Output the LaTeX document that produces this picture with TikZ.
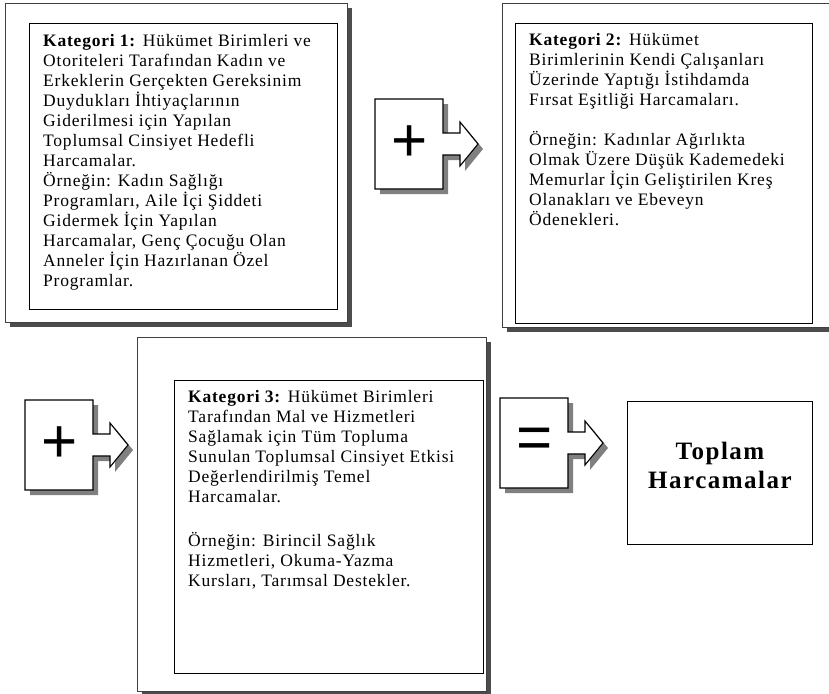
\documentclass[tikz,border=0pt]{standalone}
\usepackage{fontspec}
\setmainfont{Liberation Serif}
\newfontfamily\boxfont[LetterSpace=4.5]{Liberation Serif}
\newfontfamily\sumfont[LetterSpace=6]{Liberation Serif}
\newfontfamily\signfont{Liberation Sans}
\usetikzlibrary{positioning,shadows}

\begin{document}
\begin{tikzpicture}[x=1pt,y=-1pt,
    outerbox/.style={draw=black!75, line width=1.2pt, fill=white, anchor=north west, inner sep=0pt,
      drop shadow={shadow xshift=4pt, shadow yshift=-4pt, fill=black!70, opacity=1}},
    innerbox/.style={draw=black, line width=0.9pt, fill=white, anchor=north west, inner sep=0pt},
    txt/.style={inner sep=0pt, align=left, font=\boxfont\fontsize{17.5}{20}\selectfont},
    callout/.style={draw=black, line width=1.1pt, fill=white,
      drop shadow={shadow xshift=5pt, shadow yshift=-5pt, fill=black!50, opacity=1}},
    sign/.style={inner sep=0pt, font=\signfont\fontsize{62}{62}\selectfont}]
    \useasboundingbox (0,0) rectangle (829,693);
    % category boxes
    \node[outerbox, minimum width=342pt, minimum height=319pt] (out1) at (5,3) {};
    \node[innerbox, minimum width=308pt, minimum height=286pt] (in1) at (29,23) {};
    \node[outerbox, minimum width=334pt, minimum height=324pt] (out2) at (502,3) {};
    \node[innerbox, minimum width=297pt, minimum height=300pt] (in2) at (515,23) {};
    \node[outerbox, minimum width=349pt, minimum height=354pt] (out3) at (137,337) {};
    \node[innerbox, minimum width=309pt, minimum height=293pt] (in3) at (174,380) {};
    \node[innerbox, minimum width=185pt, minimum height=143pt] (total) at (627,401) {};
    % texts
    \node[txt, below right=11pt and 14pt of in1.north west] (kat1) {%
      \textbf{Kategori 1:} Hükümet Birimleri ve\\
      Otoriteleri Tarafından Kadın ve\\
      Erkeklerin Gerçekten Gereksinim\\
      Duydukları İhtiyaçlarının\\
      Giderilmesi için Yapılan\\
      Toplumsal Cinsiyet Hedefli\\
      Harcamalar.\\
      Örneğin: Kadın Sağlığı\\
      Programları, Aile İçi Şiddeti\\
      Gidermek İçin Yapılan\\
      Harcamalar, Genç Çocuğu Olan\\
      Anneler İçin Hazırlanan Özel\\
      Programlar.};
    \node[txt, below right=10pt and 14pt of in2.north west] (kat2) {%
      \textbf{Kategori 2:} Hükümet\\
      Birimlerinin Kendi Çalışanları\\
      Üzerinde Yaptığı İstihdamda\\
      Fırsat Eşitliği Harcamaları.\\[20pt]
      Örneğin: Kadınlar Ağırlıkta\\
      Olmak Üzere Düşük Kademedeki\\
      Memurlar İçin Geliştirilen Kreş\\
      Olanakları ve Ebeveyn\\
      Ödenekleri.};
    \node[txt, below right=10pt and 14pt of in3.north west] (kat3) {%
      \textbf{Kategori 3:} Hükümet Birimleri\\
      Tarafından Mal ve Hizmetleri\\
      Sağlamak için Tüm Topluma\\
      Sunulan Toplumsal Cinsiyet Etkisi\\
      Değerlendirilmiş Temel\\
      Harcamalar.\\[24pt]
      Örneğin: Birincil Sağlık\\
      Hizmetleri, Okuma-Yazma\\
      Kursları, Tarımsal Destekler.};
    \node[align=center, inner sep=0pt, font=\sumfont\bfseries\fontsize{25}{29}\selectfont]
      (sumtxt) at (720,465) {Toplam\\Harcamalar};
    % arrow callouts
    \foreach \x/\y/\s/\n in {375/99/+/plus1, 25/400/+/plus2, 500/398/=/equal} {
      \draw[callout, shift={(\x,\y)}] (0,0) -- (68,0) -- (68,34) -- (85,34) -- (85,23)
        -- (103,45) -- (85,67) -- (85,56) -- (68,56) -- (68,90) -- (0,90) -- cycle;
      \node[sign] (\n) at (\x+35,\y+45) {\s};
    }
\end{tikzpicture}
\end{document}
